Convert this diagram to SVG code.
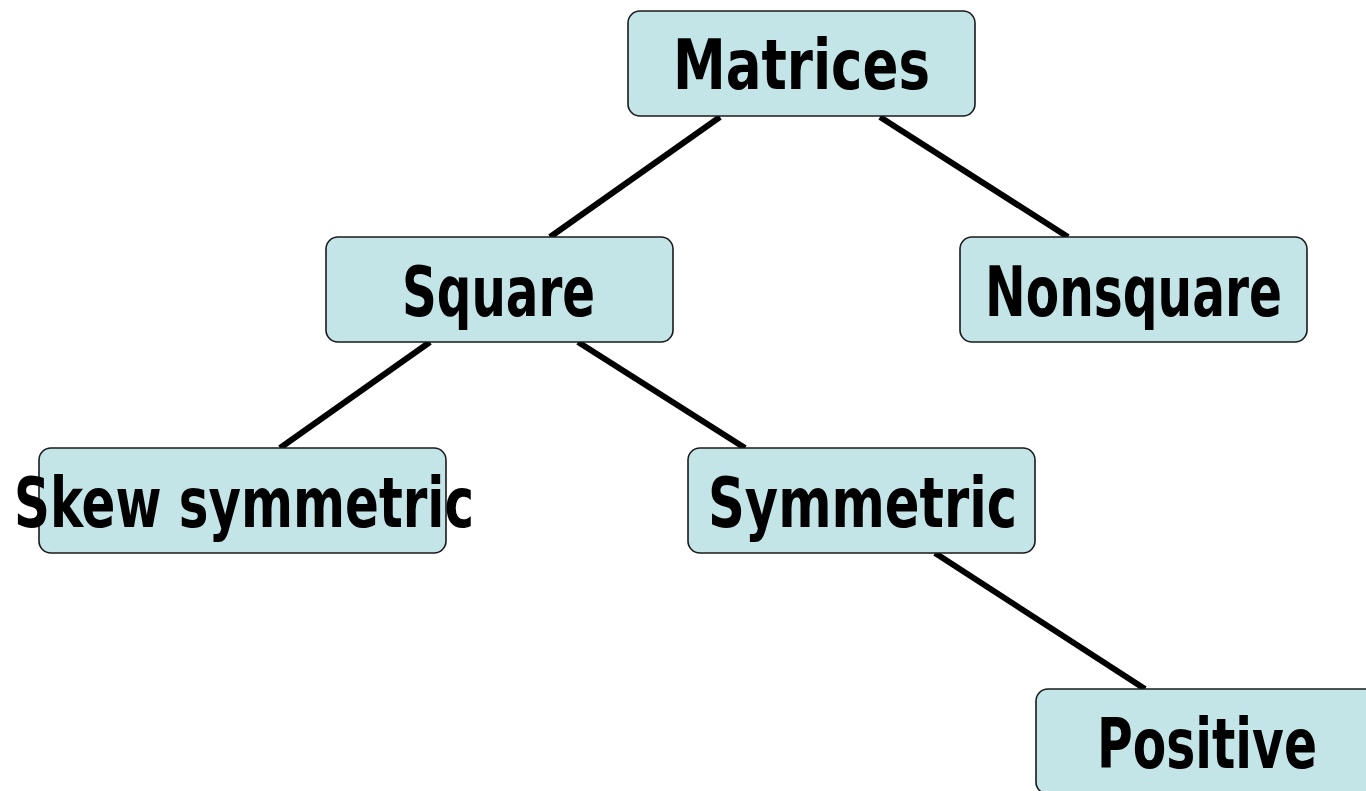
<svg xmlns="http://www.w3.org/2000/svg" width="1366" height="791" viewBox="0 0 1366 791">
<style>
.box{fill:#c4e5e8;stroke:#1a1a1a;stroke-width:1.6}
.lbl{font-family:"DejaVu Sans",sans-serif;font-weight:bold;font-stretch:condensed;font-size:70px;fill:#000;text-anchor:start}
.edge{stroke:#000;stroke-width:6;fill:none}
</style>
<rect width="1366" height="791" fill="#fff"/>
<g id="connectors">
<line class="edge" x1="720" y1="117" x2="550" y2="237"/>
<line class="edge" x1="880" y1="117" x2="1068" y2="237"/>
<line class="edge" x1="430" y1="342" x2="280" y2="448"/>
<line class="edge" x1="578" y1="342" x2="745" y2="448"/>
<line class="edge" x1="935" y1="553" x2="1145" y2="689"/>
</g>
<g id="matrices">
<rect class="box" x="628" y="11" width="347" height="105" rx="12"/>
<text class="lbl" x="673" y="89" textLength="257" lengthAdjust="spacingAndGlyphs">Matrices</text>
</g>
<g id="square">
<rect class="box" x="326" y="237" width="347" height="105" rx="12"/>
<text class="lbl" x="402" y="316" textLength="193" lengthAdjust="spacingAndGlyphs">Square</text>
</g>
<g id="nonsquare">
<rect class="box" x="960" y="237" width="347" height="105" rx="12"/>
<text class="lbl" x="985" y="316" textLength="297" lengthAdjust="spacingAndGlyphs">Nonsquare</text>
</g>
<g id="skew">
<rect class="box" x="39" y="448" width="407" height="105" rx="12"/>
<text class="lbl" x="14" y="527" textLength="460" lengthAdjust="spacingAndGlyphs">Skew symmetric</text>
</g>
<g id="symmetric">
<rect class="box" x="688" y="448" width="347" height="105" rx="12"/>
<text class="lbl" x="708" y="527" textLength="309" lengthAdjust="spacingAndGlyphs">Symmetric</text>
</g>
<g id="positive">
<rect class="box" x="1036" y="689" width="347" height="105" rx="12"/>
<text class="lbl" x="1097" y="768" textLength="220" lengthAdjust="spacingAndGlyphs">Positive</text>
</g>
</svg>
